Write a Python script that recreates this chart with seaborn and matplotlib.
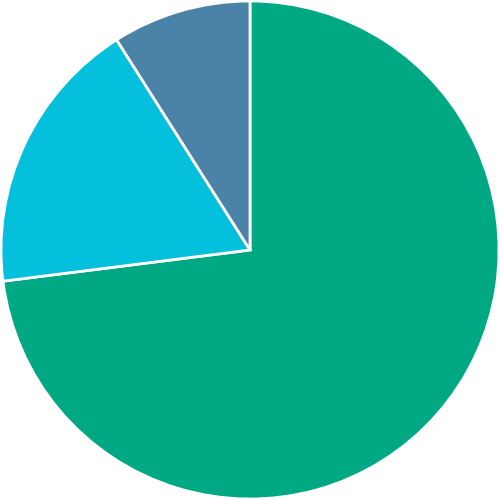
import matplotlib
matplotlib.use("Agg")
from matplotlib import pyplot as plt
import seaborn as sns

# 数据
labels = ['A', 'B', 'C']
values = [73, 18, 9]
colors = ['#00a984', '#05c0dd', '#4a82a8']

sns.set_style("white")

fig = plt.figure(figsize=(5, 5), dpi=100)
ax = fig.add_axes([0, 0, 1, 1])
ax.pie(values, colors=colors, startangle=90, counterclock=False,
       radius=1.0, wedgeprops={'edgecolor': 'white', 'linewidth': 2})
ax.set_xlim(-1.004, 1.004)
ax.set_ylim(-1.004, 1.004)
ax.set_aspect('equal')
ax.axis('off')
fig.savefig('out.png', dpi=100, facecolor='white')
